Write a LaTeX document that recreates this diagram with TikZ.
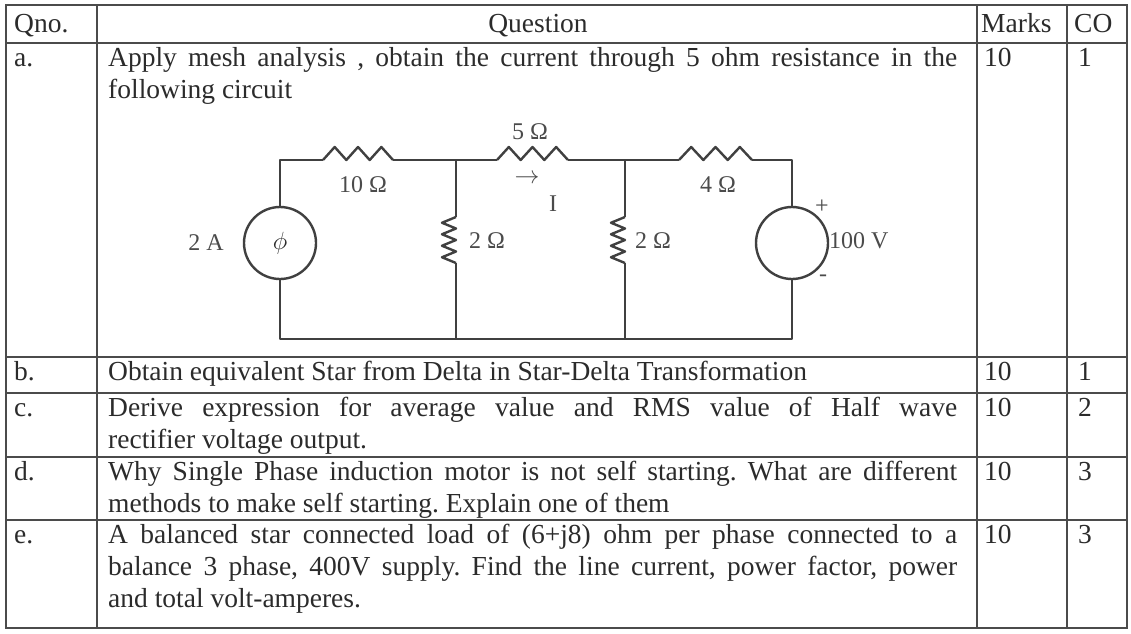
\documentclass[tikz,border=0pt]{standalone}
\usepackage{fontspec}
\setmainfont{Liberation Serif}
\usetikzlibrary{positioning}
\definecolor{ink}{HTML}{2B2B2B}
\frenchspacing
\tikzset{
	x=1pt, y=-1pt,
	txt/.style={anchor=base west, inner sep=0pt, text=ink, font=\fontsize{27.5}{32}\selectfont},
	lbl/.style={inner sep=0pt, text=ink!85, font=\fontsize{24}{26}\selectfont},
	grid/.style={draw=ink!85, line width=1.2pt},
	wire/.style={draw=ink!90, line width=2.4pt, line join=round},
	src/.style={wire, circle, minimum size=72pt, inner sep=0pt, text=ink, font=\fontsize{28}{30}\selectfont}}
\newcommand{\jline}[1]{\makebox[849pt][s]{#1}}
% one-sided zigzags: start point, step length
\newcommand{\hres}[2]{\draw[wire] (#1) -- ++(#2,-13) -- ++(#2,13) -- ++(#2,-13) -- ++(#2,13) -- ++(#2,-13) -- ++(#2,13);}
\newcommand{\vres}[2]{\draw[wire] (#1) -- ++(-14,#2) -- ++(14,#2) -- ++(-14,#2) -- ++(14,#2) -- ++(-14,#2) -- ++(14,#2) -- ++(-14,#2) -- ++(14,#2);}
\begin{document}
\begin{tikzpicture}
	\useasboundingbox (0,0) rectangle (1131,633);
	
	% table
	\draw[grid] (6,5) rectangle (1127,628);
	\foreach \r in {43,357,393,457,520}
		\draw[grid] (6,\r) -- (1127,\r);
	\foreach \c in {97,977,1067}
		\draw[grid] (\c,5) -- (\c,628);
	
	\node[txt] (hq) at (14,32) {Qno.};
	\node[txt, anchor=base] (hques) at (538,32) {Question};
	\node[txt] (hmk) at (981,32) {Marks};
	\node[txt] (hco) at (1074,32) {CO};
	
	\node[txt] (qa) at (14,66) {a.};
	\node[txt] (ta1) at (108,66) {\jline{Apply mesh analysis , obtain the current through 5 ohm resistance in the}};
	\node[txt] (ta2) at (108,98) {following circuit};
	\node[txt] (ma) at (984,66) {10};
	\node[txt] (ca) at (1078,66) {1};
	
	\node[txt] (qb) at (14,380) {b.};
	\node[txt] (tb1) at (108,380) {Obtain equivalent Star from Delta in Star-Delta Transformation};
	\node[txt] (mb) at (984,380) {10};
	\node[txt] (cb) at (1078,380) {1};
	
	\node[txt] (qc) at (14,416) {c.};
	\node[txt] (tc1) at (108,416) {\jline{Derive expression for average value and RMS value of Half wave}};
	\node[txt] (tc2) at (108,448) {rectifier voltage output.};
	\node[txt] (mc) at (984,416) {10};
	\node[txt] (cc) at (1078,416) {2};
	
	\node[txt] (qd) at (14,480) {d.};
	\node[txt] (td1) at (108,480) {\jline{Why Single Phase induction motor is not self starting. What are different}};
	\node[txt] (td2) at (108,512) {methods to make self starting. Explain one of them};
	\node[txt] (md) at (984,480) {10};
	\node[txt] (cd) at (1078,480) {3};
	
	\node[txt] (qe) at (14,543) {e.};
	\node[txt] (te1) at (108,543) {\jline{A balanced star connected load of (6+j8) ohm per phase connected to a}};
	\node[txt] (te2) at (108,575) {\jline{balance 3 phase, 400V supply. Find the line current, power factor, power}};
	\node[txt] (te3) at (108,607) {and total volt-amperes.};
	\node[txt] (me) at (984,543) {10};
	\node[txt] (ce) at (1078,543) {3};
	
	% circuit
	\coordinate (tl) at (280,160);
	\coordinate (n1t) at (456,160);
	\coordinate (n2t) at (625,160);
	\coordinate (tr) at (792,160);
	\coordinate (bl) at (280,339);
	\coordinate (n1b) at (456,339);
	\coordinate (n2b) at (625,339);
	\coordinate (br) at (792,339);
	\coordinate (r10a) at (323,160);
	\coordinate (r10b) at (393,160);
	\coordinate (r5a) at (497,160);
	\coordinate (r5b) at (568,160);
	\coordinate (r4a) at (679,160);
	\coordinate (r4b) at (752,160);
	\coordinate (r2a) at (456,217);
	\coordinate (r2b) at (456,263);
	\coordinate (r2c) at (625,217);
	\coordinate (r2d) at (625,263);
	
	\node[src] (isrc) at (280,243) {$\phi$};
	\node[src] (vsrc) at (792,243) {};
	
	\draw[wire] (isrc) -- (tl) -- (r10a);
	\draw[wire] (r10b) -- (n1t) -- (r5a);
	\draw[wire] (r5b) -- (n2t) -- (r4a);
	\draw[wire] (r4b) -- (tr) -- (vsrc);
	\draw[wire] (vsrc) -- (br) -- (n2b) -- (n1b) -- (bl) -- (isrc);
	\draw[wire] (n1t) -- (r2a);
	\draw[wire] (r2b) -- (n1b);
	\draw[wire] (n2t) -- (r2c);
	\draw[wire] (r2d) -- (n2b);
	\hres{r10a}{11.67}
	\hres{r5a}{11.83}
	\hres{r4a}{12.17}
	\vres{r2a}{5.75}
	\vres{r2c}{5.75}
	
	\node[lbl] (l5) at (530,132) {5 Ω};
	\node[lbl] (l10) at (363,185) {10 Ω};
	\node[lbl] (l4) at (718,185) {4 Ω};
	\node[lbl] (arr) at (527,179) {$\rightarrow$};
	\node[lbl] (li) at (553,204) {I};
	\node[lbl, anchor=east] (l2A) at (224,243) {2 A};
	\node[lbl, anchor=west] (l2a) at (469,241) {2 Ω};
	\node[lbl, anchor=west] (l2b) at (635,241) {2 Ω};
	\node[lbl, anchor=west] (l100) at (829,241) {100 V};
	\node[lbl] (lp) at (822,207) {+};
	\node[lbl] (lm) at (823,278) {-};
\end{tikzpicture}
\end{document}
